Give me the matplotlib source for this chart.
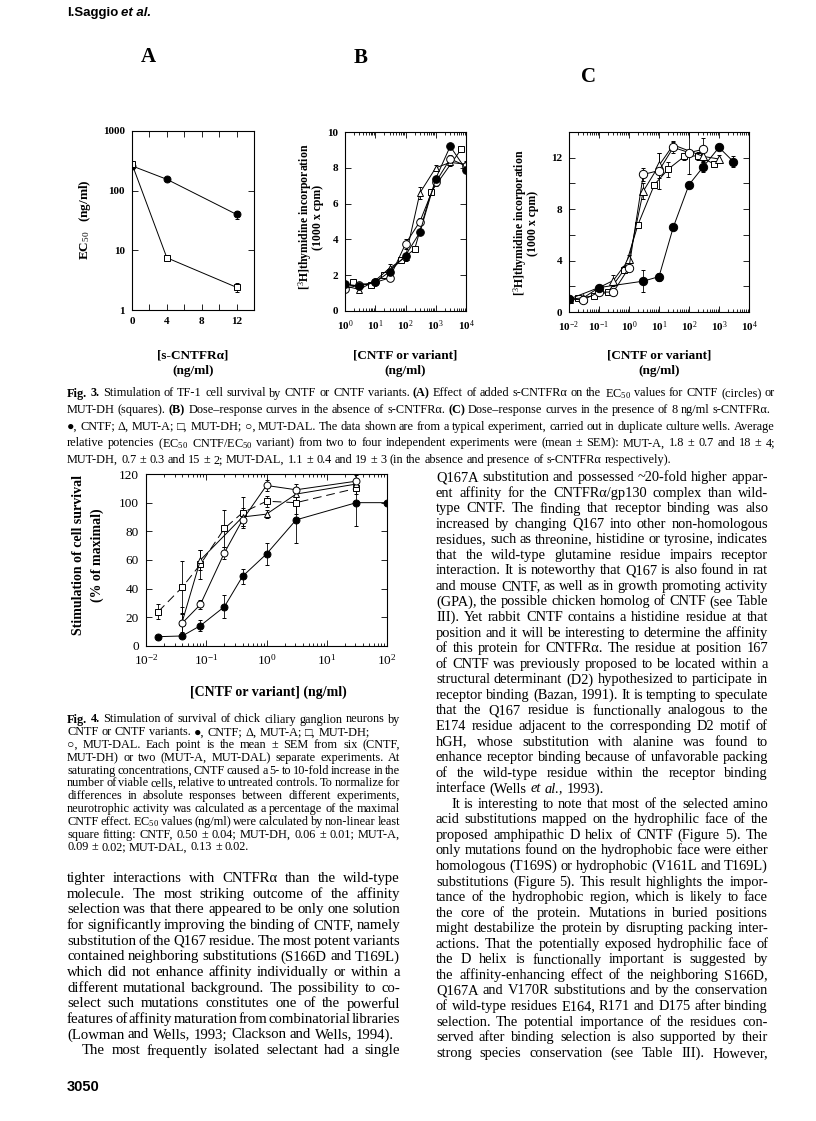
import matplotlib
matplotlib.use('Agg')
import matplotlib.pyplot as plt
import numpy as np
from matplotlib.ticker import MultipleLocator, LogLocator, NullLocator, NullFormatter, FuncFormatter

W, H = 816, 1121
plt.rcParams['font.family'] = ['Liberation Serif', 'DejaVu Serif']
plt.rcParams['mathtext.fontset'] = 'custom'
plt.rcParams['mathtext.rm'] = 'Liberation Serif'
plt.rcParams['mathtext.it'] = 'Liberation Serif:italic'
plt.rcParams['mathtext.bf'] = 'Liberation Serif:bold'

# ---- data, Fig. 3A : EC50 vs s-CNTFRa
a_conc = [0, 4, 12]
a_cntf = [260, 155, 40]
a_cntf_err = [25, 12, 6]
a_mutdh = [280, 7.5, 2.4]
a_mutdh_err = [35, 0.8, 0.4]

# ---- Fig. 3B : no receptor
b_x = [1, 3, 10, 30, 100, 300, 1000, 3000, 10000]
b_cntf = [1.5, 1.4, 1.6, 2.2, 3.1, 4.4, 7.4, 9.2, 7.9]
b_muta = [1.4, 1.2, 1.7, 2.4, 3.0, 6.6, 8.0, 8.3, 8.2]
b_muta_err = [0.1, 0.15, 0.1, 0.2, 0.2, 0.35, 0.15, 0.2, 0.2]
b_mutdal = [1.25, 1.45, 1.6, 1.85, 3.75, 5.0, 7.2, 8.5, 8.1]
b_mutdal_err = [0.1, 0.1, 0.1, 0.15, 0.3, 0.2, 0.2, 0.2, 0.2]
b_mutdh_x = [1.9, 7, 20, 70, 200, 700, 7000]
b_mutdh = [1.6, 1.45, 2.0, 2.85, 3.45, 6.65, 9.05]

# ---- Fig. 3C : 8 ng/ml receptor
c_cntf_x = [0.01, 0.1, 3, 10, 30, 100, 300, 1000, 3000]
c_cntf = [1.0, 1.9, 2.4, 2.75, 6.6, 9.9, 11.3, 12.8, 11.7]
c_cntf_err = [0.1, 0.2, 0.85, 0.3, 0.2, 0.2, 0.4, 0.2, 0.4]
c_mutdal_x = [0.01, 0.03, 0.1, 0.3, 1, 3, 10, 30, 100, 300]
c_mutdal = [1.0, 0.95, 1.55, 1.55, 3.45, 10.7, 11.0, 12.8, 12.4, 12.65]
c_mutdal_err = [0.1, 0.1, 0.2, 0.2, 0.2, 0.5, 1.4, 0.4, 1.7, 0.9]
c_muta_x = [0.01, 0.03, 0.1, 0.3, 1, 3, 10, 30, 300, 1000]
c_muta = [1.0, 1.1, 1.9, 2.45, 4.1, 9.4, 11.4, 13.0, 12.1, 11.9]
c_muta_err = [0.1, 0.1, 0.2, 0.45, 0.3, 0.6, 1.0, 0.3, 0.4, 0.3]
c_mutdh_x = [0.02, 0.07, 0.2, 0.7, 2, 7, 20, 70, 200, 700]
c_mutdh = [1.1, 1.25, 1.55, 3.3, 6.8, 9.9, 11.1, 12.1, 12.15, 11.5]
c_mutdh_err = [0.1, 0.1, 0.2, 0.3, 0.2, 0.2, 0.6, 0.3, 0.3, 0.2]

# ---- Fig. 4 : ciliary ganglion survival
d_cntf_x = [0.016, 0.04, 0.08, 0.2, 0.4, 1.0, 3.1, 31, 100]
d_cntf = [6.5, 7, 14.2, 27.4, 48.6, 64.2, 88, 100, 100]
d_cntf_err = [1, 1, 4, 8, 5, 8, 16, 16, 0]
d_mutdh_x = [0.016, 0.04, 0.08, 0.2, 0.4, 1.0, 3.1, 31]
d_mutdh = [24, 41, 57, 82, 93, 101, 100, 110]
d_mutdh_err = [5, 18, 10, 13, 11, 4, 8, 4]
d_muta_x = [0.04, 0.08, 0.4, 1.0, 3.1, 31]
d_muta = [17, 60, 90, 92, 106, 113]
d_muta_err = [10, 7, 6, 3, 5, 4]
d_mutdal_x = [0.04, 0.08, 0.2, 0.4, 1.0, 3.1, 31]
d_mutdal = [16, 29, 65, 88, 112, 109, 115]
d_mutdal_err = [6, 3, 4, 4, 4, 4, 4]

fig = plt.figure(figsize=(W / 100, H / 100), dpi=100)
fig.patch.set_facecolor('white')


def ax_at(l, t, r, b):
    return fig.add_axes([l / W, 1 - b / H, (r - l) / W, (b - t) / H])


def txt(x, y, s, **kw):
    return fig.text(x / W, 1 - y / H, s, **kw)


def series(ax, x, y, err, mk, filled, ls='-', ms=5):
    ax.errorbar(x, y, yerr=err, fmt=mk, ls=ls, color='k', mfc='k' if filled else 'white',
                mec='k', ms=ms, mew=0.7, lw=0.7, elinewidth=0.6, capsize=1.5, capthick=0.6)


def style(ax, size, bold):
    ax.tick_params(which='both', direction='in', top=True, right=True, width=0.6,
                   labelsize=size, pad=5)
    ax.tick_params(which='major', length=4)
    ax.tick_params(which='minor', length=2)
    for s in ax.spines.values():
        s.set_linewidth(0.8)
    for lab in ax.get_xticklabels() + ax.get_yticklabels():
        lab.set_fontweight('bold' if bold else 'normal')


def pow10(v, pos):
    return r'10$^{%d}$' % int(round(np.log10(v)))


def log_x(ax, lo, hi):
    ax.set_xscale('log')
    ax.set_xlim(lo, hi)
    ax.xaxis.set_major_locator(LogLocator(base=10, numticks=20))
    ax.xaxis.set_minor_locator(LogLocator(base=10, subs=np.arange(2, 10), numticks=20))
    ax.xaxis.set_major_formatter(FuncFormatter(pow10))
    ax.xaxis.set_minor_formatter(NullFormatter())


# ---------------- panel A
ax = ax_at(132, 131, 254, 310)
series(ax, a_conc, a_cntf, a_cntf_err, 'o', True)
series(ax, a_conc, a_mutdh, a_mutdh_err, 's', False)
ax.set_yscale('log')
ax.set_ylim(1, 1000)
ax.set_xlim(0, 14)
ax.yaxis.set_minor_locator(NullLocator())
ax.yaxis.set_major_formatter(FuncFormatter(lambda v, p: '%d' % v))
ax.xaxis.set_major_locator(MultipleLocator(2))
ax.xaxis.set_major_formatter(FuncFormatter(lambda v, p: '%d' % v if v % 4 == 0 and v < 14 else ''))
style(ax, 8, True)

# ---------------- panel B
ax = ax_at(345, 132, 466, 311)
series(ax, b_mutdh_x, b_mutdh, 0.15, 's', False)
series(ax, b_x, b_muta, b_muta_err, '^', False)
series(ax, b_x, b_mutdal, b_mutdal_err, 'o', False, ms=5.5)
series(ax, b_x, b_cntf, 0.15, 'o', True, ms=5.5)
log_x(ax, 1, 1e4)
ax.set_ylim(0, 10)
ax.yaxis.set_major_locator(MultipleLocator(2))
style(ax, 8, True)

# ---------------- panel C
ax = ax_at(569, 132, 749, 312)
series(ax, c_mutdh_x, c_mutdh, c_mutdh_err, 's', False)
series(ax, c_muta_x, c_muta, c_muta_err, '^', False, ms=5.5)
series(ax, c_mutdal_x, c_mutdal, c_mutdal_err, 'o', False, ms=6)
series(ax, c_cntf_x, c_cntf, c_cntf_err, 'o', True, ms=6)
log_x(ax, 1e-2, 1e4)
ax.set_ylim(0, 14)
ax.yaxis.set_major_locator(MultipleLocator(2))
ax.yaxis.set_major_formatter(FuncFormatter(lambda v, p: '%d' % v if v % 4 == 0 and v < 14 else ''))
style(ax, 8, True)

# ---------------- Fig. 4
ax = ax_at(146, 474, 387, 646)
series(ax, d_mutdh_x, d_mutdh, d_mutdh_err, 's', False, ls=(0, (9, 5)))
series(ax, d_muta_x, d_muta, d_muta_err, '^', False)
series(ax, d_mutdal_x, d_mutdal, d_mutdal_err, 'o', False)
series(ax, d_cntf_x, d_cntf, d_cntf_err, 'o', True)
log_x(ax, 1e-2, 1e2)
ax.set_ylim(0, 120)
ax.yaxis.set_major_locator(MultipleLocator(20))
style(ax, 9.5, False)

# ---------------- axis titles / panel letters
bold = dict(fontweight='bold', ha='center', va='center')
txt(148, 57, 'A', fontsize=15, **bold)
txt(361, 58, 'B', fontsize=15, **bold)
txt(588, 77, 'C', fontsize=15, **bold)
txt(85, 220, r'EC$_{50}$   (ng/ml)', fontsize=9.5, rotation=90, **bold)
for cx in (305, 520):
    cy = 217 if cx == 305 else 223
    txt(cx, cy, r'[$^{3}$H]thymidine incorporation', fontsize=8.5, rotation=90, **bold)
    txt(cx + 13, cy, '(1000 x cpm)', fontsize=8.5, rotation=90, **bold)
txt(193, 355, '[s-CNTFRα]', fontsize=9.5, **bold)
txt(193, 371, '(ng/ml)', fontsize=9.5, **bold)
for cx in (405, 659):
    txt(cx, 355, '[CNTF or variant]', fontsize=9.5, **bold)
    txt(cx, 371, '(ng/ml)', fontsize=9.5, **bold)
txt(79, 555, 'Stimulation of cell survival', fontsize=10, rotation=90, **bold)
txt(97, 555, '(% of maximal)', fontsize=10, rotation=90, **bold)
txt(268, 692, '[CNTF or variant] (ng/ml)', fontsize=10, **bold)

rend = fig.canvas.get_renderer()

# header and page number
hd = txt(67, 13, 'I.Saggio', fontsize=9.5, fontweight='bold', family='Liberation Sans', va='center')
hw = hd.get_window_extent(rend).width
txt(67 + hw + 3, 13, 'et al.', fontsize=9.5, fontweight='bold', style='italic',
    family='Liberation Sans', va='center')
txt(67, 1087, '3050', fontsize=10.5, fontweight='bold', family='Liberation Sans', va='center')


# ---------------- justified text blocks
def words(line, size):
    out = []
    for w in line.split():
        kw = dict(fontsize=size, va='center_baseline', ha='left')
        if '*' in w:
            w = w.replace('*', '')
            kw['fontweight'] = 'bold'
        elif w[0] == '_':
            w = w[1:]
            kw['fontstyle'] = 'italic'
        out.append(fig.text(0, 0, w, **kw))
    return out


def fit(lines, width, size, ragged, pct=30):
    ratios = []
    for i, line in enumerate(lines):
        if i in ragged:
            continue
        arts = words(line, size)
        nat = sum(a.get_window_extent(rend).width for a in arts) + size * 100 / 72 * 0.25 * (len(arts) - 1)
        for a in arts:
            a.remove()
        ratios.append(width / nat)
    return size * np.percentile(ratios, pct)


def block(x0, x1, y0, dy, lines, ragged=(), indent=None, base=10, pct=30):
    indent = indent or {}
    size = fit(lines, x1 - x0, base, ragged, pct)
    for i, line in enumerate(lines):
        arts = words(line, size)
        ws = [a.get_window_extent(rend).width for a in arts]
        xs = x0 + indent.get(i, 0)
        gap = size * 100 / 72 * 0.25
        if i not in ragged and len(arts) > 1:
            gap = (x1 - xs - sum(ws)) / (len(arts) - 1)
        y = y0 + i * dy
        for a, w in zip(arts, ws):
            a.set_position((xs / W, 1 - y / H))
            xs += w + gap


cap3 = [
    '*Fig. *3. Stimulation of TF-1 cell survival by CNTF or CNTF variants. (*A) Effect of added s-CNTFRα on the EC$_{50}$ values for CNTF (circles) or',
    'MUT-DH (squares). (*B) Dose–response curves in the absence of s-CNTFRα. (*C) Dose–response curves in the presence of 8 ng/ml s-CNTFRα.',
    '●, CNTF; Δ, MUT-A; □, MUT-DH; ○, MUT-DAL. The data shown are from a typical experiment, carried out in duplicate culture wells. Average',
    'relative potencies (EC$_{50}$ CNTF/EC$_{50}$ variant) from two to four independent experiments were (mean ± SEM): MUT-A, 1.8 ± 0.7 and 18 ± 4;',
    'MUT-DH, 0.7 ± 0.3 and 15 ± 2; MUT-DAL, 1.1 ± 0.4 and 19 ± 3 (in the absence and presence of s-CNTFRα respectively).',
]
block(67, 775, 392, 16.6, cap3, ragged=(1, 4))

cap4 = [
    '*Fig. *4. Stimulation of survival of chick ciliary ganglion neurons by',
    'CNTF or CNTF variants. ●, CNTF; Δ, MUT-A; □, MUT-DH;',
    '○, MUT-DAL. Each point is the mean ± SEM from six (CNTF,',
    'MUT-DH) or two (MUT-A, MUT-DAL) separate experiments. At',
    'saturating concentrations, CNTF caused a 5- to 10-fold increase in the',
    'number of viable cells, relative to untreated controls. To normalize for',
    'differences in absolute responses between different experiments,',
    'neurotrophic activity was calculated as a percentage of the maximal',
    'CNTF effect. EC$_{50}$ values (ng/ml) were calculated by non-linear least',
    'square fitting: CNTF, 0.50 ± 0.04; MUT-DH, 0.06 ± 0.01; MUT-A,',
    '0.09 ± 0.02; MUT-DAL, 0.13 ± 0.02.',
]
block(67, 400, 718, 12.8, cap4, ragged=(1, 10), base=9, pct=45)

left = [
    'tighter interactions with CNTFRα than the wild-type',
    'molecule. The most striking outcome of the affinity',
    'selection was that there appeared to be only one solution',
    'for significantly improving the binding of CNTF, namely',
    'substitution of the Q167 residue. The most potent variants',
    'contained neighboring substitutions (S166D and T169L)',
    'which did not enhance affinity individually or within a',
    'different mutational background. The possibility to co-',
    'select such mutations constitutes one of the powerful',
    'features of affinity maturation from combinatorial libraries',
    '(Lowman and Wells, 1993; Clackson and Wells, 1994).',
    'The most frequently isolated selectant had a single',
]
block(67, 400, 877, 15.65, left, ragged=(10,), indent={11: 15})

right = [
    'Q167A substitution and possessed ~20-fold higher appar-',
    'ent affinity for the CNTFRα/gp130 complex than wild-',
    'type CNTF. The finding that receptor binding was also',
    'increased by changing Q167 into other non-homologous',
    'residues, such as threonine, histidine or tyrosine, indicates',
    'that the wild-type glutamine residue impairs receptor',
    'interaction. It is noteworthy that Q167 is also found in rat',
    'and mouse CNTF, as well as in growth promoting activity',
    '(GPA), the possible chicken homolog of CNTF (see Table',
    'III). Yet rabbit CNTF contains a histidine residue at that',
    'position and it will be interesting to determine the affinity',
    'of this protein for CNTFRα. The residue at position 167',
    'of CNTF was previously proposed to be located within a',
    'structural determinant (D2) hypothesized to participate in',
    'receptor binding (Bazan, 1991). It is tempting to speculate',
    'that the Q167 residue is functionally analogous to the',
    'E174 residue adjacent to the corresponding D2 motif of',
    'hGH, whose substitution with alanine was found to',
    'enhance receptor binding because of unfavorable packing',
    'of the wild-type residue within the receptor binding',
    'interface (Wells _et _al., 1993).',
    'It is interesting to note that most of the selected amino',
    'acid substitutions mapped on the hydrophilic face of the',
    'proposed amphipathic D helix of CNTF (Figure 5). The',
    'only mutations found on the hydrophobic face were either',
    'homologous (T169S) or hydrophobic (V161L and T169L)',
    'substitutions (Figure 5). This result highlights the impor-',
    'tance of the hydrophobic region, which is likely to face',
    'the core of the protein. Mutations in buried positions',
    'might destabilize the protein by disrupting packing inter-',
    'actions. That the potentially exposed hydrophilic face of',
    'the D helix is functionally important is suggested by',
    'the affinity-enhancing effect of the neighboring S166D,',
    'Q167A and V170R substitutions and by the conservation',
    'of wild-type residues E164, R171 and D175 after binding',
    'selection. The potential importance of the residues con-',
    'served after binding selection is also supported by their',
    'strong species conservation (see Table III). However,',
]
block(436, 768, 476, 15.56, right, ragged=(20,), indent={21: 15})

fig.savefig('out.png', dpi=100, facecolor='white')
